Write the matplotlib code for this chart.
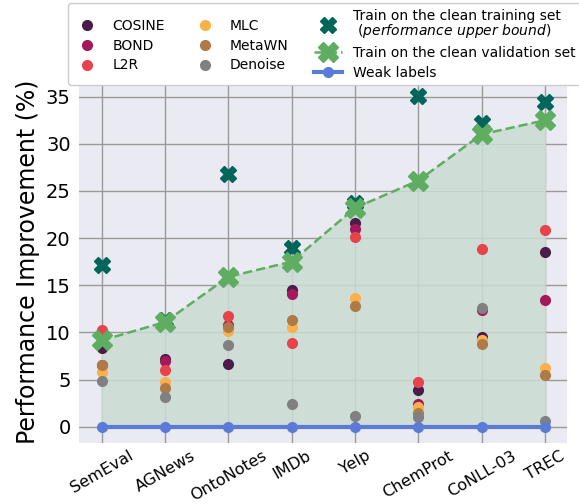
import matplotlib.pyplot as plt
import numpy as np

datasets = ['SemEval', 'AGNews', 'OntoNotes', 'IMDb', 'Yelp', 'ChemProt', 'CoNLL-03', 'TREC']

cosine = [8.3, 7.2, 6.6, 14.5, 21.6, 3.9, 9.5, 18.5]
bond = [6.5, 7.0, 10.8, 14.1, 21.0, 2.4, 12.4, 13.4]
l2r = [10.3, 6.0, 11.7, 8.9, 20.1, 4.7, 18.8, 20.9]
mlc = [5.8, 4.7, 10.1, 10.6, 13.7, 2.1, 9.2, 6.2]
metawn = [6.5, 4.1, 10.6, 11.3, 12.8, 1.5, 8.8, 5.5]
denoise = [4.8, 3.1, 8.7, 2.4, 1.1, 1.0, 12.6, 0.6]
clean_train = [17.1, 11.3, 26.8, 18.9, 23.7, 35.1, 32.2, 34.4]
clean_val = [9.15, 11.1, 15.9, 17.5, 23.2, 26.1, 31.0, 32.5]
weak = [0, 0, 0, 0, 0, 0, 0, 0]

methods = {
    'COSINE': (cosine, '#4b1b4a'),
    'BOND': (bond, '#a3195b'),
    'L2R': (l2r, '#e8434a'),
    'MLC': (mlc, '#fbb04a'),
    'MetaWN': (metawn, '#b07a48'),
    'Denoise': (denoise, '#808080'),
}

fig = plt.figure(figsize=(5.79, 5.04), dpi=100)
ax = fig.add_axes([0.1364, 0.1216, 0.843, 0.7197])
ax.set_facecolor('#eaeaf2')
for s in ax.spines.values():
    s.set_visible(False)
ax.grid(True, color='#999999', linewidth=1)
ax.set_axisbelow(True)

x = np.arange(len(datasets))

ax.fill_between(x, weak, clean_val, color='#cadcd2', alpha=0.85, zorder=1)

handles = []
for name, (vals, color) in methods.items():
    h, = ax.plot(x, vals, 'o', color=color, markersize=7, label=name, zorder=3, linestyle='none')
    handles.append(h)

h1, = ax.plot(x, clean_train, 'X', color='#00665a', markersize=12, linestyle='none', zorder=4,
              label='Train on the clean training set\n ($\\it{performance\\ upper\\ bound}$)')
h2, = ax.plot(x, clean_val, 'X', color='#5fad60', markersize=14, linestyle='--', linewidth=1.8, zorder=5,
              label='Train on the clean validation set')
h3, = ax.plot(x, weak, 'o-', color='#5b7bd9', markersize=7, linewidth=3, zorder=5, label='Weak labels')
handles += [h1, h2, h3]

ax.set_xlim(-0.36, 7.35)
ax.set_ylim(-1.7, 36.77)
ax.set_xticks(x)
ax.set_xticklabels(datasets, rotation=30, fontsize=11.5)
ax.set_yticks([0, 5, 10, 15, 20, 25, 30, 35])
ax.tick_params(axis='y', labelsize=14)
ax.tick_params(axis='x', pad=4)
ax.tick_params(length=0)
ax.tick_params(axis='y', pad=6)
ax.set_ylabel('Performance Improvement (%)', fontsize=17)

leg = fig.legend(handles=handles, ncol=3, loc='upper left', bbox_to_anchor=(0.1174, 0.994),
                 fontsize=10, frameon=True, facecolor='white', framealpha=1, edgecolor='#cccccc',
                 borderaxespad=0, columnspacing=1.85, labelspacing=0.42)
leg.get_texts()[6].set_linespacing(0.95)

fig.savefig('out.png', dpi=100)
